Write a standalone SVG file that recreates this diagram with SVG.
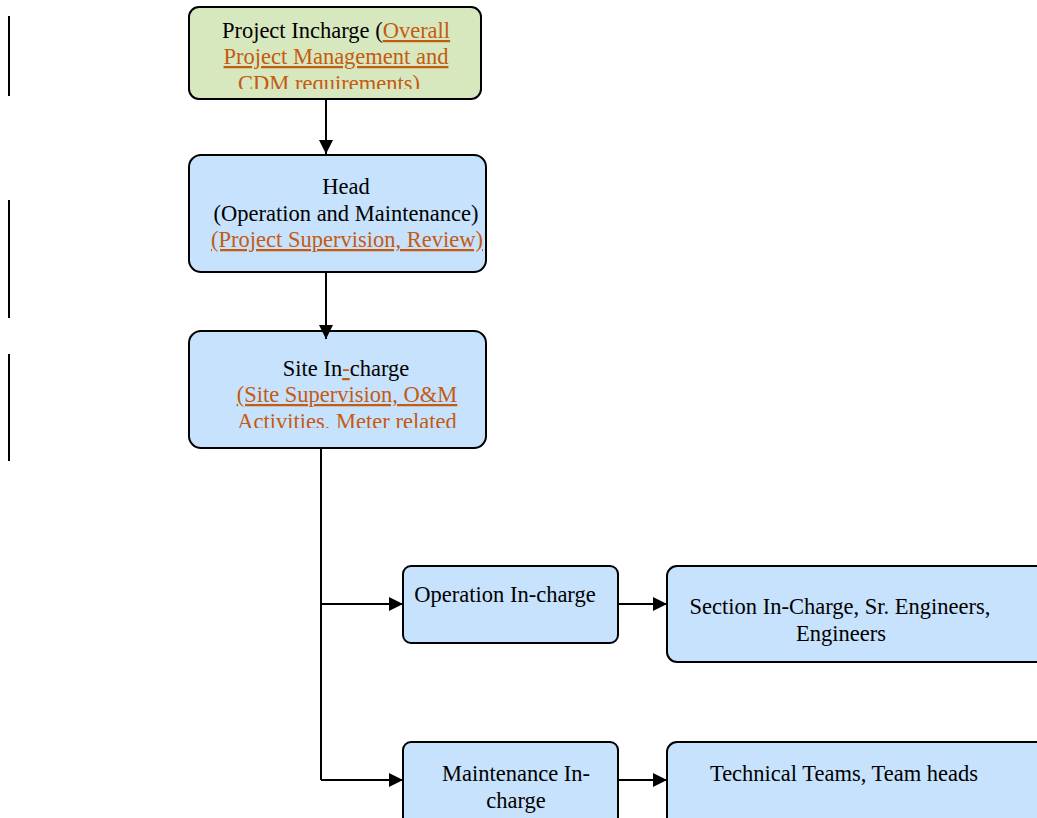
<svg xmlns="http://www.w3.org/2000/svg" width="1037" height="818" viewBox="0 0 1037 818">
<defs>
<style>
.box{stroke:#000;stroke-width:2;}
.g{fill:#d7e8bf;}
.b{fill:#c6e2fd;}
text{font-family:"Liberation Serif","Times New Roman",serif;font-size:22.5px;fill:#000;}
.o{fill:#c55a11;}
.u{text-decoration:underline;}
.c{stroke:#000;stroke-width:2;fill:none;}
.bar{stroke:#000;stroke-width:2;}
</style>
<marker id="ah" markerWidth="14" markerHeight="14" refX="14" refY="7" orient="auto" markerUnits="userSpaceOnUse" viewBox="0 0 14 14">
<path d="M0,0 L14,7 L0,14 Z" fill="#000"/>
</marker>
<clipPath id="clip1"><rect x="189" y="7" width="292" height="82"/></clipPath>
<clipPath id="clip3"><rect x="189" y="331" width="297" height="97"/></clipPath>
</defs>
<g id="margin-bars">
<line class="bar" x1="9" y1="16" x2="9" y2="96"/>
<line class="bar" x1="9" y1="200" x2="9" y2="318"/>
<line class="bar" x1="9" y1="354" x2="9" y2="461"/>
</g>
<g id="project-incharge">
<rect class="box g" x="189" y="7" width="292" height="92" rx="10"/>
<g clip-path="url(#clip1)">
<text x="336" y="38" text-anchor="middle">Project Incharge (<tspan class="o u">Overall</tspan></text>
<text x="336" y="64" text-anchor="middle" class="o u">Project Management and</text>
<text x="329" y="91" text-anchor="middle" class="o">CDM requirements)</text>
</g>
</g>
<g id="head">
<rect class="box b" x="189" y="155" width="297" height="117" rx="12"/>
<text x="346" y="194" text-anchor="middle">Head</text>
<text x="346" y="221" text-anchor="middle">(Operation and Maintenance)</text>
<text x="347" y="247" text-anchor="middle" class="o u">(Project Supervision, Review)</text>
</g>
<g id="site-incharge">
<rect class="box b" x="189" y="331" width="297" height="117" rx="12"/>
<g clip-path="url(#clip3)">
<text x="346" y="376" text-anchor="middle">Site In<tspan class="o u">-</tspan>charge</text>
<text x="347" y="402" text-anchor="middle" class="o u">(Site Supervision, O&amp;M</text>
<text x="347" y="429" text-anchor="middle" class="o">Activities, Meter related</text>
</g>
</g>
<g id="operation-incharge">
<rect class="box b" x="403" y="566" width="215" height="77" rx="8"/>
<text x="505" y="602" text-anchor="middle">Operation In-charge</text>
</g>
<g id="section-incharge">
<rect class="box b" x="667" y="566" width="380" height="96" rx="10"/>
<text x="840" y="614" text-anchor="middle">Section In-Charge, Sr. Engineers,</text>
<text x="841" y="641" text-anchor="middle">Engineers</text>
</g>
<g id="maintenance-incharge">
<rect class="box b" x="403" y="742" width="215" height="90" rx="8"/>
<text x="516" y="781" text-anchor="middle">Maintenance In-</text>
<text x="516" y="808" text-anchor="middle">charge</text>
</g>
<g id="technical-teams">
<rect class="box b" x="667" y="742" width="380" height="90" rx="10"/>
<text x="844" y="781" text-anchor="middle">Technical Teams, Team heads</text>
</g>
<g id="connectors">
<line class="c" x1="326" y1="100" x2="326" y2="154" marker-end="url(#ah)"/>
<line class="c" x1="326" y1="273" x2="326" y2="339" marker-end="url(#ah)"/>
<polyline class="c" points="321,449 321,780"/>
<line class="c" x1="321" y1="604" x2="403" y2="604" marker-end="url(#ah)"/>
<line class="c" x1="321" y1="780" x2="403" y2="780" marker-end="url(#ah)"/>
<line class="c" x1="619" y1="604" x2="667" y2="604" marker-end="url(#ah)"/>
<line class="c" x1="619" y1="780" x2="667" y2="780" marker-end="url(#ah)"/>
</g>
</svg>
